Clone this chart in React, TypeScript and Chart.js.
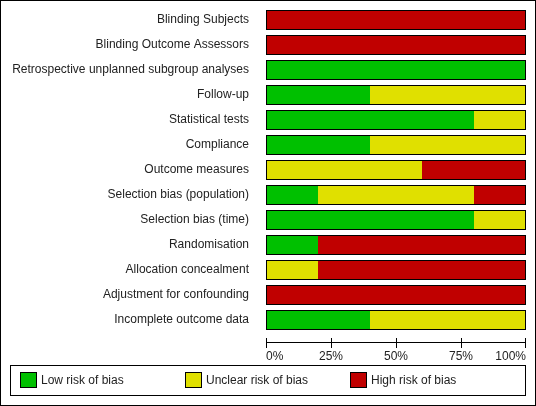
import React, { useEffect, useRef } from "react";
import { Chart, registerables } from "chart.js";

Chart.register(...registerables);

const categories = [
  "Blinding Subjects",
  "Blinding Outcome Assessors",
  "Retrospective unplanned subgroup analyses",
  "Follow-up",
  "Statistical tests",
  "Compliance",
  "Outcome measures",
  "Selection bias (population)",
  "Selection bias (time)",
  "Randomisation",
  "Allocation concealment",
  "Adjustment for confounding",
  "Incomplete outcome data",
];
const lowRisk = [0, 0, 100, 40, 80, 40, 0, 20, 80, 20, 0, 0, 40];
const unclearRisk = [0, 0, 0, 60, 20, 60, 60, 60, 20, 0, 20, 0, 60];
const highRisk = [100, 100, 0, 0, 0, 0, 40, 20, 0, 80, 80, 100, 0];
const seriesLabels = ["Low risk of bias", "Unclear risk of bias", "High risk of bias"];
const seriesColors = ["#00C000", "#E0E000", "#C00000"];
const xTicks = [0, 25, 50, 75, 100];

const FONT = "Liberation Sans, Arial, sans-serif";
const TEXT = "#222";

const decorPlugin = {
  id: "decor",
  afterDatasetsDraw(chart: any) {
    const ctx = chart.ctx;
    const xs = chart.scales.x;
    const meta = chart.getDatasetMeta(0);
    ctx.save();
    ctx.strokeStyle = "#000";
    ctx.lineWidth = 1;
    const x0 = Math.round(xs.getPixelForValue(0));
    const x1 = Math.round(xs.getPixelForValue(100));
    meta.data.forEach((el: any) => {
      const top = Math.round(el.y - el.height / 2);
      const h = Math.round(el.height);
      ctx.strokeRect(x0 + 0.5, top + 0.5, x1 - x0 - 1, h - 1);
    });
    const axisY = 342.5;
    ctx.beginPath();
    ctx.moveTo(x0, axisY);
    ctx.lineTo(x1, axisY);
    xTicks.forEach((v, i) => {
      let px = Math.round(xs.getPixelForValue(v)) + 0.5;
      if (i === xTicks.length - 1) px -= 1;
      ctx.moveTo(px, 338);
      ctx.lineTo(px, 348);
    });
    ctx.stroke();
    ctx.restore();
  },
  afterDraw(chart: any) {
    const ctx = chart.ctx;
    ctx.save();
    ctx.strokeStyle = "#000";
    ctx.lineWidth = 1;
    ctx.strokeRect(0.5, 0.5, 535, 405);
    ctx.strokeRect(10.5, 365.5, 515, 30);
    const starts = [20, 185, 350];
    ctx.font = "12px " + FONT;
    ctx.textBaseline = "middle";
    ctx.textAlign = "left";
    chart.data.datasets.forEach((ds: any, i: number) => {
      const bx = starts[i];
      ctx.fillStyle = ds.backgroundColor;
      ctx.fillRect(bx, 372, 16, 16);
      ctx.strokeRect(bx + 0.5, 372.5, 16, 15);
      ctx.fillStyle = TEXT;
      ctx.fillText(ds.label, bx + 21, 381);
    });
    ctx.restore();
  },
};

function zeroPad(s: any) {
  s.paddingTop = 0;
  s.paddingBottom = 0;
  s.paddingLeft = 0;
  s.paddingRight = 0;
}

export default function App() {
  const ref = useRef<HTMLCanvasElement>(null);
  useEffect(() => {
    document.body.style.margin = "0";
    const chart = new Chart(ref.current!, {
      type: "bar",
      data: {
        labels: categories,
        datasets: [
          { label: seriesLabels[0], data: lowRisk, backgroundColor: seriesColors[0], borderWidth: 0 },
          { label: seriesLabels[1], data: unclearRisk, backgroundColor: seriesColors[1], borderWidth: 0 },
          { label: seriesLabels[2], data: highRisk, backgroundColor: seriesColors[2], borderWidth: 0 },
        ],
      },
      options: {
        indexAxis: "y",
        responsive: false,
        animation: false,
        layout: { padding: { top: 7.5, right: 10, left: 0, bottom: 0 } },
        plugins: { legend: { display: false }, tooltip: { enabled: false } },
        datasets: { bar: { barPercentage: 0.8, categoryPercentage: 1 } },
        scales: {
          x: {
            stacked: true,
            min: 0,
            max: 100,
            afterFit: (s: any) => { s.height = 73.5; zeroPad(s); },
            afterBuildTicks: (s: any) => { s.ticks = xTicks.map((v) => ({ value: v })); },
            grid: { display: false },
            border: { display: false },
            ticks: {
              align: "inner",
              padding: 9,
              color: TEXT,
              font: { family: FONT, size: 12 },
              callback: (v: any) => v + "%",
            },
          },
          y: {
            stacked: true,
            afterFit: (s: any) => { s.width = 266; zeroPad(s); },
            grid: { display: false },
            border: { display: false },
            ticks: {
              padding: 9,
              color: TEXT,
              font: { family: FONT, size: 12 },
            },
          },
        },
      },
      plugins: [decorPlugin],
    } as any);
    return () => chart.destroy();
  }, []);
  return (
    <div style={{ width: 536, height: 406, background: "#fff" }}>
      <canvas ref={ref} width={536} height={406} />
    </div>
  );
}
